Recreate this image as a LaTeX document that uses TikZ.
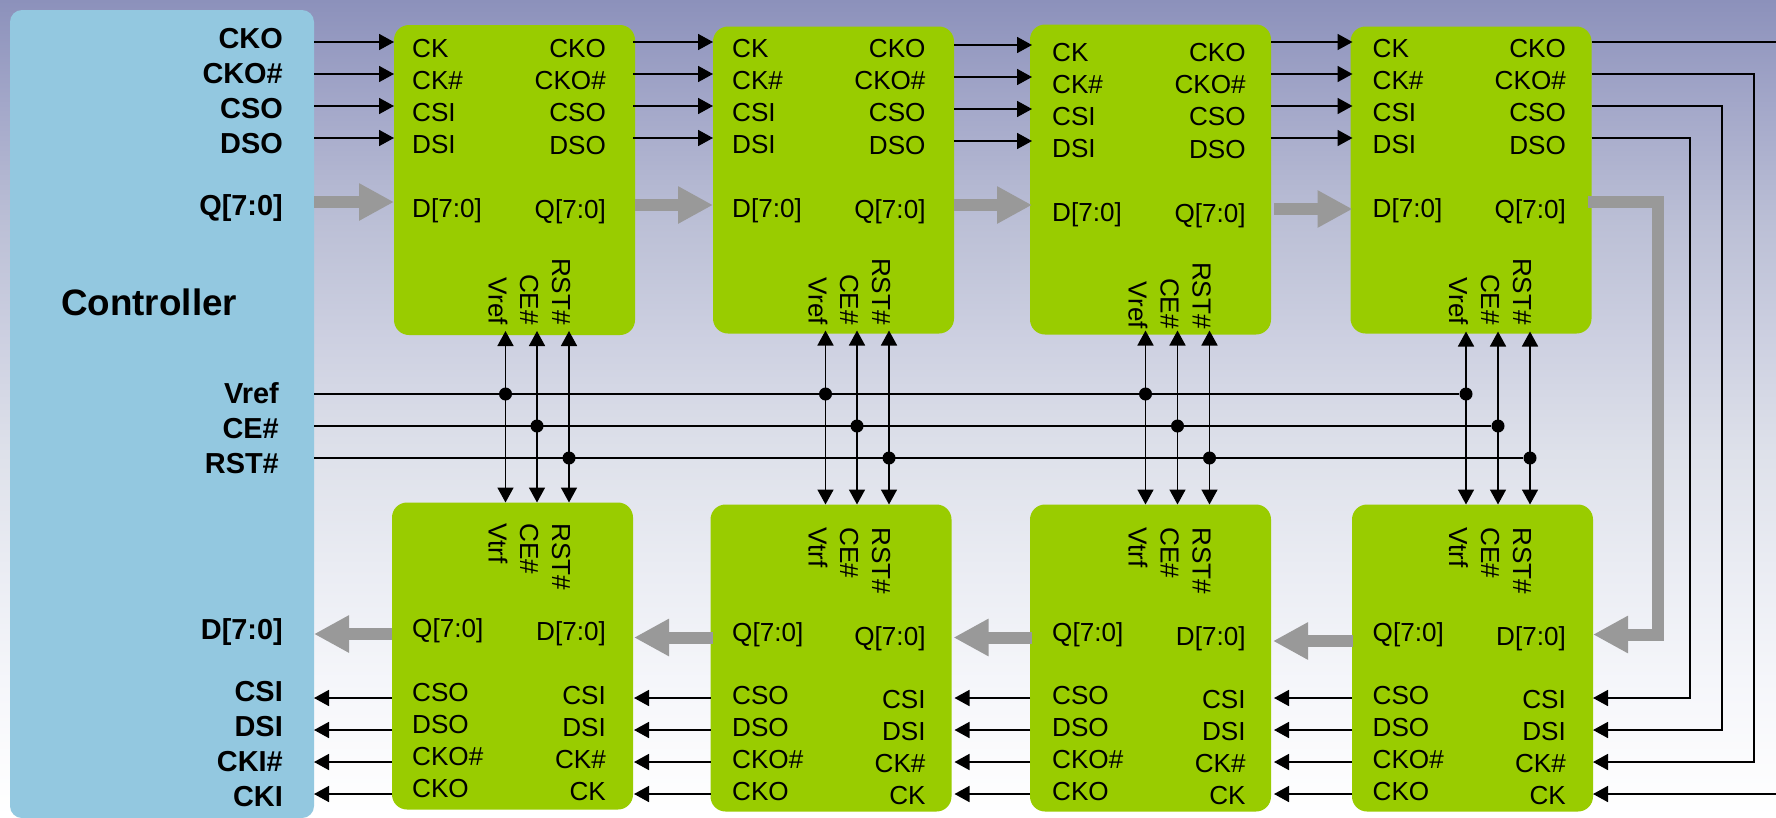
\documentclass[tikz,border=0pt]{standalone}
\usepackage{fontspec}
\setmainfont{Liberation Sans}
\usetikzlibrary{arrows.meta}

\definecolor{ctrlblue}{HTML}{93C8E0}
\definecolor{chipgreen}{HTML}{99CC00}
\definecolor{busgray}{HTML}{999999}
\definecolor{bga}{HTML}{8C91BB}
\definecolor{bgb}{HTML}{A5A9CA}
\definecolor{bgc}{HTML}{BCC0D6}
\definecolor{bgd}{HTML}{CDD0E1}
\definecolor{bge}{HTML}{DEE1EA}
\definecolor{bgf}{HTML}{EAECF3}
\definecolor{bgg}{HTML}{F5F6FA}
\pgfdeclareverticalshading{bgfade}{100bp}{color(0bp)=(white); color(25bp)=(white); color(33.4bp)=(bgg); color(40.32bp)=(bgf); color(47.26bp)=(bge); color(54.2bp)=(bgd); color(61.13bp)=(bgc); color(68.07bp)=(bgb); color(75bp)=(bga); color(100bp)=(bga)}

\begin{document}
\begin{tikzpicture}[
x=1pt, y=-1pt,
>={Triangle[length=15pt, width=16pt]},
wire/.style={line width=1.7pt, black},
bus/.style={line width=12pt, busgray, -{Triangle[length=35pt, width=35pt]}},
dot/.style={circle, fill=black, inner sep=0pt, minimum size=13pt},
chip/.style={fill=chipgreen, rounded corners=15pt, minimum width=241pt, minimum height=307pt, inner sep=0pt, outer sep=0pt},
ctrlbox/.style={fill=ctrlblue, rounded corners=12pt, minimum width=304pt, minimum height=808pt, inner sep=0pt, outer sep=0pt},
lpin/.style={anchor=base west, inner sep=0pt, font=\fontsize{26.1}{30}\selectfont},
rpin/.style={anchor=base east, inner sep=0pt, font=\fontsize{26.1}{30}\selectfont},
upin/.style={rotate=-90, anchor=base east, inner sep=0pt, font=\fontsize{26.1}{30}\selectfont},
dpin/.style={rotate=-90, anchor=base west, inner sep=0pt, font=\fontsize{26.1}{30}\selectfont},
cpin/.style={anchor=base east, inner sep=0pt, font=\fontsize{28.9}{32}\selectfont\bfseries}
]

% --- Background ---
\useasboundingbox (0,0) rectangle (1776,817);
\shade[shading=bgfade] (0,0) rectangle (1776,817);

% --- Controller ---
\node[ctrlbox] (ctrl) at (162,414) {};
\node[anchor=base west, inner sep=0pt, font=\fontsize{36.8}{40}\selectfont\bfseries] (ctrlname) at (61,315) {Controller};

\node[cpin] (ccko) at (283,48) {CKO};
\node[cpin] (ckon) at (283,83) {CKO\#};
\node[cpin] (ccso) at (283,118) {CSO};
\node[cpin] (cdso) at (283,153) {DSO};
\node[cpin] (cq) at (283,215) {Q[7:0]};
\node[cpin] (cvref) at (279,403) {Vref};
\node[cpin] (cce) at (279,438) {CE\#};
\node[cpin] (crst) at (279,473) {RST\#};
\node[cpin] (cd) at (283,639) {D[7:0]};
\node[cpin] (ccsi) at (283,701) {CSI};
\node[cpin] (cdsi) at (283,736) {DSI};
\node[cpin] (ckin) at (283,771) {CKI\#};
\node[cpin] (cki) at (283,806) {CKI};

% --- Upper chips ---
\node[chip, minimum height=310pt] (t1) at (514.5,180) {};
\node[chip] (t2) at (833.5,180) {};
\node[chip, minimum height=310pt] (t3) at (1150.5,179.5) {};
\node[chip] (t4) at (1471,180) {};

% Chip 1
\node[lpin] (tck1) at (412,57.5) {CK};
\node[lpin] (tckn1) at (412,89.5) {CK\#};
\node[lpin] (tcsi1) at (412,121.5) {CSI};
\node[lpin] (tdsi1) at (412,153.5) {DSI};
\node[lpin] (td1) at (412,217.5) {D[7:0]};
\node[rpin] (tcko1) at (606,57.5) {CKO};
\node[rpin] (tckon1) at (606,89.5) {CKO\#};
\node[rpin] (tcso1) at (606,121.5) {CSO};
\node[rpin] (tdso1) at (606,154.5) {DSO};
\node[rpin] (tq1) at (606,218) {Q[7:0]};
\node[upin] (tvref1) at (488.5,325) {Vref};
\node[upin] (tce1) at (520,325) {CE\#};
\node[upin] (trst1) at (552,325) {RST\#};

% Chip 2
\node[lpin] (tck2) at (732,57.5) {CK};
\node[lpin] (tckn2) at (732,89.5) {CK\#};
\node[lpin] (tcsi2) at (732,121.5) {CSI};
\node[lpin] (tdsi2) at (732,153.5) {DSI};
\node[lpin] (td2) at (732,217.5) {D[7:0]};
\node[rpin] (tcko2) at (925.7,57.5) {CKO};
\node[rpin] (tckon2) at (925.7,89.5) {CKO\#};
\node[rpin] (tcso2) at (925.7,121.5) {CSO};
\node[rpin] (tdso2) at (925.7,154.5) {DSO};
\node[rpin] (tq2) at (925.7,218) {Q[7:0]};
\node[upin] (tvref2) at (808.5,325) {Vref};
\node[upin] (tce2) at (840,325) {CE\#};
\node[upin] (trst2) at (872,325) {RST\#};

% Chip 3
\node[lpin] (tck3) at (1052,61.5) {CK};
\node[lpin] (tckn3) at (1052,93.5) {CK\#};
\node[lpin] (tcsi3) at (1052,125.5) {CSI};
\node[lpin] (tdsi3) at (1052,157.5) {DSI};
\node[lpin] (td3) at (1052,221.5) {D[7:0]};
\node[rpin] (tcko3) at (1245.8,61.5) {CKO};
\node[rpin] (tckon3) at (1245.8,93.5) {CKO\#};
\node[rpin] (tcso3) at (1245.8,125.5) {CSO};
\node[rpin] (tdso3) at (1245.8,158) {DSO};
\node[rpin] (tq3) at (1245.8,222) {Q[7:0]};
\node[upin] (tvref3) at (1128.5,329) {Vref};
\node[upin] (tce3) at (1160.5,329) {CE\#};
\node[upin] (trst3) at (1192.5,329) {RST\#};

% Chip 4
\node[lpin] (tck4) at (1372.5,57.5) {CK};
\node[lpin] (tckn4) at (1372.5,89.5) {CK\#};
\node[lpin] (tcsi4) at (1372.5,121.5) {CSI};
\node[lpin] (tdsi4) at (1372.5,153.5) {DSI};
\node[lpin] (td4) at (1372.5,217.5) {D[7:0]};
\node[rpin] (tcko4) at (1566,57.5) {CKO};
\node[rpin] (tckon4) at (1566,89.5) {CKO\#};
\node[rpin] (tcso4) at (1566,121.5) {CSO};
\node[rpin] (tdso4) at (1566,154.5) {DSO};
\node[rpin] (tq4) at (1566,218) {Q[7:0]};
\node[upin] (tvref4) at (1449,325) {Vref};
\node[upin] (tce4) at (1481,325) {CE\#};
\node[upin] (trst4) at (1513,325) {RST\#};

% --- Lower chips ---
\node[chip] (b1) at (512.5,656) {};
\node[chip] (b2) at (831,658) {};
\node[chip] (b3) at (1150.5,658) {};
\node[chip] (b4) at (1472.5,658) {};

% Chip 1
\node[dpin] (bvtrf1) at (488.5,523) {Vtrf};
\node[dpin] (bce1) at (520,523) {CE\#};
\node[dpin] (brst1) at (552,523) {RST\#};
\node[lpin] (bq1) at (412,637) {Q[7:0]};
\node[lpin] (bcso1) at (412,701.5) {CSO};
\node[lpin] (bdso1) at (412,733.5) {DSO};
\node[lpin] (bckon1) at (412,765.5) {CKO\#};
\node[lpin] (bcko1) at (412,797.5) {CKO};
\node[rpin] (bd1) at (606,640.5) {D[7:0]};
\node[rpin] (bcsi1) at (606,704) {CSI};
\node[rpin] (bdsi1) at (606,736) {DSI};
\node[rpin] (bckn1) at (606,768) {CK\#};
\node[rpin] (bck1) at (606,800) {CK};

% Chip 2
\node[dpin] (bvtrf2) at (808.5,527) {Vtrf};
\node[dpin] (bce2) at (840,527) {CE\#};
\node[dpin] (brst2) at (872,527) {RST\#};
\node[lpin] (bq2) at (732,641.5) {Q[7:0]};
\node[lpin] (bcso2) at (732,704.5) {CSO};
\node[lpin] (bdso2) at (732,736.5) {DSO};
\node[lpin] (bckon2) at (732,768.5) {CKO\#};
\node[lpin] (bcko2) at (732,800.5) {CKO};
\node[rpin] (bd2) at (925.7,645.5) {Q[7:0]};
\node[rpin] (bcsi2) at (925.7,708) {CSI};
\node[rpin] (bdsi2) at (925.7,740.5) {DSI};
\node[rpin] (bckn2) at (925.7,772) {CK\#};
\node[rpin] (bck2) at (925.7,804) {CK};

% Chip 3
\node[dpin] (bvtrf3) at (1128.5,527) {Vtrf};
\node[dpin] (bce3) at (1160.5,527) {CE\#};
\node[dpin] (brst3) at (1192.5,527) {RST\#};
\node[lpin] (bq3) at (1052,641.5) {Q[7:0]};
\node[lpin] (bcso3) at (1052,704.5) {CSO};
\node[lpin] (bdso3) at (1052,736.5) {DSO};
\node[lpin] (bckon3) at (1052,768.5) {CKO\#};
\node[lpin] (bcko3) at (1052,800.5) {CKO};
\node[rpin] (bd3) at (1245.8,645.5) {D[7:0]};
\node[rpin] (bcsi3) at (1245.8,708) {CSI};
\node[rpin] (bdsi3) at (1245.8,740.5) {DSI};
\node[rpin] (bckn3) at (1245.8,772) {CK\#};
\node[rpin] (bck3) at (1245.8,804) {CK};

% Chip 4
\node[dpin] (bvtrf4) at (1449,527) {Vtrf};
\node[dpin] (bce4) at (1481,527) {CE\#};
\node[dpin] (brst4) at (1513,527) {RST\#};
\node[lpin] (bq4) at (1372.5,641.5) {Q[7:0]};
\node[lpin] (bcso4) at (1372.5,704.5) {CSO};
\node[lpin] (bdso4) at (1372.5,736.5) {DSO};
\node[lpin] (bckon4) at (1372.5,768.5) {CKO\#};
\node[lpin] (bcko4) at (1372.5,800.5) {CKO};
\node[rpin] (bd4) at (1566,645.5) {D[7:0]};
\node[rpin] (bcsi4) at (1566,708) {CSI};
\node[rpin] (bdsi4) at (1566,740.5) {DSI};
\node[rpin] (bckn4) at (1566,772) {CK\#};
\node[rpin] (bck4) at (1566,804) {CK};

% --- Shared lines (Vref, CE#, RST#) ---
\node[dot] (dv1) at (505.5,394) {};
\node[dot] (dv2) at (825.5,394) {};
\node[dot] (dv3) at (1145.5,394) {};
\node[dot] (dv4) at (1466,394) {};
\node[dot] (dc1) at (537,426) {};
\node[dot] (dc2) at (857,426) {};
\node[dot] (dc3) at (1177.5,426) {};
\node[dot] (dc4) at (1498,426) {};
\node[dot] (dr1) at (569,458) {};
\node[dot] (dr2) at (889,458) {};
\node[dot] (dr3) at (1209.5,458) {};
\node[dot] (dr4) at (1530,458) {};

\draw[wire] (ctrl.east |- dv1) -- (dv4);
\draw[wire] (ctrl.east |- dc1) -- (dc4);
\draw[wire] (ctrl.east |- dr1) -- (dr4);

\draw[wire, <->, shorten <=-4pt] (t1.south -| dv1) -- (b1.north -| dv1);
\draw[wire, <->, shorten <=-4pt] (t1.south -| dc1) -- (b1.north -| dc1);
\draw[wire, <->, shorten <=-4pt] (t1.south -| dr1) -- (b1.north -| dr1);
\draw[wire, <->, shorten <=-3pt] (t2.south -| dv2) -- (b2.north -| dv2);
\draw[wire, <->, shorten <=-3pt] (t2.south -| dc2) -- (b2.north -| dc2);
\draw[wire, <->, shorten <=-3pt] (t2.south -| dr2) -- (b2.north -| dr2);
\draw[wire, <->, shorten <=-4pt] (t3.south -| dv3) -- (b3.north -| dv3);
\draw[wire, <->, shorten <=-4pt] (t3.south -| dc3) -- (b3.north -| dc3);
\draw[wire, <->, shorten <=-4pt] (t3.south -| dr3) -- (b3.north -| dr3);
\draw[wire, <->, shorten <=-2pt] (t4.south -| dv4) -- (b4.north -| dv4);
\draw[wire, <->, shorten <=-2pt] (t4.south -| dc4) -- (b4.north -| dc4);
\draw[wire, <->, shorten <=-2pt] (t4.south -| dr4) -- (b4.north -| dr4);

% --- Upper wires ---
\draw[wire, ->] (ctrl.east |- 0,42) -- (t1.west |- 0,42);
\draw[wire, ->] (ctrl.east |- 0,74) -- (t1.west |- 0,74);
\draw[wire, ->] (ctrl.east |- 0,106) -- (t1.west |- 0,106);
\draw[wire, ->] (ctrl.east |- 0,138) -- (t1.west |- 0,138);
\draw[wire, ->, shorten <=-2pt] (t1.east |- 0,42) -- (t2.west |- 0,42);
\draw[wire, ->, shorten <=-2pt] (t1.east |- 0,74) -- (t2.west |- 0,74);
\draw[wire, ->, shorten <=-2pt] (t1.east |- 0,106) -- (t2.west |- 0,106);
\draw[wire, ->, shorten <=-2pt] (t1.east |- 0,138) -- (t2.west |- 0,138);
\draw[wire, ->, shorten >=-2pt] (t2.east |- 0,45) -- (t3.west |- 0,45);
\draw[wire, ->, shorten >=-2pt] (t2.east |- 0,77) -- (t3.west |- 0,77);
\draw[wire, ->, shorten >=-2pt] (t2.east |- 0,109) -- (t3.west |- 0,109);
\draw[wire, ->, shorten >=-2pt] (t2.east |- 0,141) -- (t3.west |- 0,141);
\draw[wire, ->, shorten >=-2pt] (t3.east |- 0,42) -- (t4.west |- 0,42);
\draw[wire, ->, shorten >=-2pt] (t3.east |- 0,74) -- (t4.west |- 0,74);
\draw[wire, ->, shorten >=-2pt] (t3.east |- 0,106) -- (t4.west |- 0,106);
\draw[wire, ->, shorten >=-2pt] (t3.east |- 0,138) -- (t4.west |- 0,138);

% --- Wires down the right side ---
\coordinate (ckoend) at (1776,42);
\coordinate (ckend) at (1776,794);
\draw[wire] (t4.east |- ckoend) -- (ckoend);
\draw[wire, ->] (ckend) -- (b4.east |- ckend);
\draw[wire, ->] (t4.east |- 0,74) -- (1754,74) -- (1754,762) -- (b4.east |- 0,762);
\draw[wire, ->] (t4.east |- 0,106) -- (1722,106) -- (1722,730) -- (b4.east |- 0,730);
\draw[wire, ->] (t4.east |- 0,138) -- (1690,138) -- (1690,698) -- (b4.east |- 0,698);

% --- Lower wires ---
\draw[wire, ->] (b1.west |- 0,698) -- (ctrl.east |- 0,698);
\draw[wire, ->] (b1.west |- 0,730) -- (ctrl.east |- 0,730);
\draw[wire, ->] (b1.west |- 0,762) -- (ctrl.east |- 0,762);
\draw[wire, ->] (b1.west |- 0,794) -- (ctrl.east |- 0,794);
\draw[wire, ->, shorten >=1pt] (b2.west |- 0,698) -- (b1.east |- 0,698);
\draw[wire, ->, shorten >=1pt] (b2.west |- 0,730) -- (b1.east |- 0,730);
\draw[wire, ->, shorten >=1pt] (b2.west |- 0,762) -- (b1.east |- 0,762);
\draw[wire, ->, shorten >=1pt] (b2.west |- 0,794) -- (b1.east |- 0,794);
\draw[wire, ->, shorten >=3pt] (b3.west |- 0,698) -- (b2.east |- 0,698);
\draw[wire, ->, shorten >=3pt] (b3.west |- 0,730) -- (b2.east |- 0,730);
\draw[wire, ->, shorten >=3pt] (b3.west |- 0,762) -- (b2.east |- 0,762);
\draw[wire, ->, shorten >=3pt] (b3.west |- 0,794) -- (b2.east |- 0,794);
\draw[wire, ->, shorten >=3pt] (b4.west |- 0,698) -- (b3.east |- 0,698);
\draw[wire, ->, shorten >=3pt] (b4.west |- 0,730) -- (b3.east |- 0,730);
\draw[wire, ->, shorten >=3pt] (b4.west |- 0,762) -- (b3.east |- 0,762);
\draw[wire, ->, shorten >=3pt] (b4.west |- 0,794) -- (b3.east |- 0,794);

% --- Data bus ---
\draw[bus] (ctrl.east |- 0,202) -- (t1.west |- 0,202);
\draw[bus] (t1.east |- 0,205) -- (t2.west |- 0,205);
\draw[bus, shorten >=-2pt] (t2.east |- 0,205) -- (t3.west |- 0,205);
\draw[bus, shorten <=3pt, shorten >=-2pt] (t3.east |- 0,209) -- (t4.west |- 0,209);
\coordinate (busturn) at (1658,202);
\coordinate (busdown) at (1658,634.5);
\draw[bus, shorten <=-4pt] (t4.east |- busturn) -- (busturn) -- (busdown) -- (b4.east |- busdown);
\draw[bus, shorten <=-1pt, shorten >=2pt] (b4.west |- 0,641) -- (b3.east |- 0,641);
\draw[bus, shorten <=-2pt, shorten >=2pt] (b3.west |- 0,637.5) -- (b2.east |- 0,637.5);
\draw[bus, shorten <=-2pt, shorten >=1pt] (b2.west |- 0,637.5) -- (b1.east |- 0,637.5);
\draw[bus] (b1.west |- 0,634) -- (ctrl.east |- 0,634);

\end{tikzpicture}
\end{document}
